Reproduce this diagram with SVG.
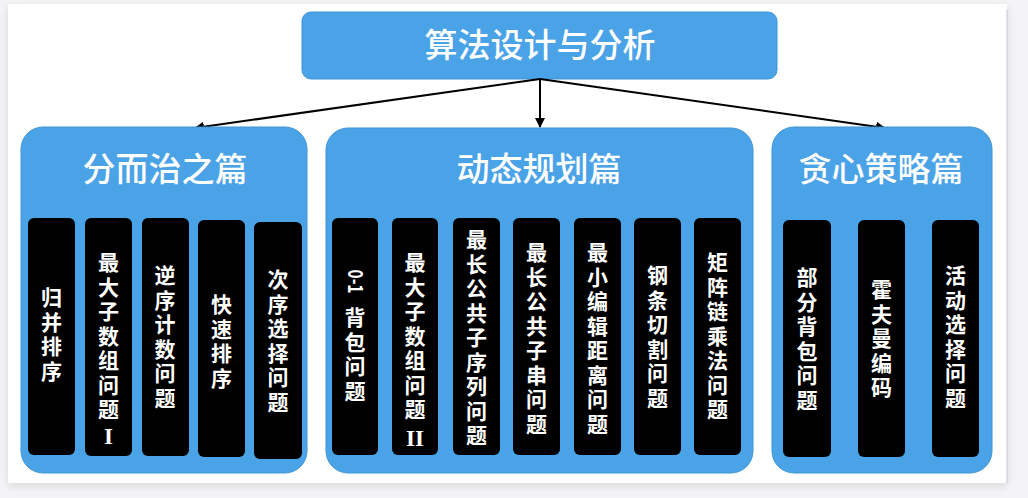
<svg xmlns="http://www.w3.org/2000/svg" width="1028" height="498" viewBox="0 0 1028 498">
<defs>
<marker id="ah" viewBox="0 0 10 10" refX="9" refY="5" markerWidth="5" markerHeight="5" orient="auto" markerUnits="strokeWidth">
<path d="M0,0 L10,5 L0,10 z" fill="#000"/>
</marker>
<filter id="sh" x="-5%" y="-5%" width="110%" height="112%">
<feGaussianBlur in="SourceAlpha" stdDeviation="4"/>
<feOffset dx="0" dy="3"/>
<feComponentTransfer><feFuncA type="linear" slope="0.12"/></feComponentTransfer>
<feMerge><feMergeNode/><feMergeNode in="SourceGraphic"/></feMerge>
</filter>
</defs>
<style>
.blue{fill:#4ba3e7;stroke:#3f95d8;stroke-width:1}
.bar{fill:#000;}
.t{font-family:"Noto Sans CJK SC","Noto Sans",sans-serif;fill:#fff;text-anchor:middle}
.title{font-size:33px;font-weight:500}
.big{font-size:33px;font-weight:500}
.v{font-size:21px;font-weight:700}
.rm{font-family:"Liberation Serif",serif;font-weight:700;font-size:23px}
.edge{stroke:#000;stroke-width:2;fill:none;marker-end:url(#ah)}
</style>
<rect x="0" y="0" width="1028" height="498" fill="#f4f4f6"/>
<rect x="8" y="4" width="999" height="479" fill="#fff" filter="url(#sh)"/>
<line x1="1007" y1="10" x2="1007" y2="483" stroke="#c8c8d8" stroke-width="1"/>

<g id="root">
<rect class="blue" x="302" y="12" width="475" height="67" rx="9"/>
<text class="t big" x="540" y="57">算法设计与分析</text>
</g>

<g id="connectors">
<line class="edge" x1="540" y1="79" x2="195" y2="128"/>
<line class="edge" x1="540" y1="79" x2="540" y2="127"/>
<line class="edge" x1="540" y1="79" x2="885" y2="128"/>
</g>

<g id="divide">
<rect class="blue" x="21" y="127" width="286" height="346" rx="22"/>
<text class="t title" x="165" y="181">分而治之篇</text>
</g>
<g id="dc1"><rect class="bar" x="28" y="218" width="47" height="237" rx="6"/>
<text class="t v"><tspan x="51.5" y="305">归</tspan><tspan x="51.5" y="329.5">并</tspan><tspan x="51.5" y="354">排</tspan><tspan x="51.5" y="378.5">序</tspan></text></g>
<g id="dc2"><rect class="bar" x="85" y="218" width="47" height="238" rx="6"/>
<text class="t v"><tspan x="108.5" y="270">最</tspan><tspan x="108.5" y="294.5">大</tspan><tspan x="108.5" y="319">子</tspan><tspan x="108.5" y="343.5">数</tspan><tspan x="108.5" y="368">组</tspan><tspan x="108.5" y="392.5">问</tspan><tspan x="108.5" y="417">题</tspan></text>
<text class="t rm" x="108.5" y="444">I</text></g>
<g id="dc3"><rect class="bar" x="142" y="218" width="47" height="238" rx="6"/>
<text class="t v"><tspan x="165" y="283">逆</tspan><tspan x="165" y="307.5">序</tspan><tspan x="165" y="332">计</tspan><tspan x="165" y="356.5">数</tspan><tspan x="165" y="381">问</tspan><tspan x="165" y="405.5">题</tspan></text></g>
<g id="dc4"><rect class="bar" x="198" y="220" width="47" height="237" rx="6"/>
<text class="t v"><tspan x="221.5" y="312">快</tspan><tspan x="221.5" y="336.5">速</tspan><tspan x="221.5" y="361">排</tspan><tspan x="221.5" y="385.5">序</tspan></text></g>
<g id="dc5"><rect class="bar" x="254" y="222" width="48" height="237" rx="6"/>
<text class="t v"><tspan x="278" y="287">次</tspan><tspan x="278" y="311.5">序</tspan><tspan x="278" y="336">选</tspan><tspan x="278" y="360.5">择</tspan><tspan x="278" y="385">问</tspan><tspan x="278" y="409.5">题</tspan></text></g>

<g id="dynamic">
<rect class="blue" x="326" y="128" width="427" height="345" rx="22"/>
<text class="t title" x="539" y="181">动态规划篇</text>
</g>
<g id="dp1"><rect class="bar" x="332" y="218" width="46" height="237" rx="6"/>
<text class="t v" transform="translate(355,281.5) rotate(90)" dy="7" font-size="22" textLength="24" lengthAdjust="spacingAndGlyphs">0-1</text>
<text class="t v"><tspan x="355" y="325">背</tspan><tspan x="355" y="349.5">包</tspan><tspan x="355" y="374">问</tspan><tspan x="355" y="398.5">题</tspan></text></g>
<g id="dp2"><rect class="bar" x="392" y="218" width="46" height="237" rx="6"/>
<text class="t v"><tspan x="415" y="270">最</tspan><tspan x="415" y="294.5">大</tspan><tspan x="415" y="319">子</tspan><tspan x="415" y="343.5">数</tspan><tspan x="415" y="368">组</tspan><tspan x="415" y="392.5">问</tspan><tspan x="415" y="417">题</tspan></text>
<text class="t rm" x="415" y="446">II</text></g>
<g id="dp3"><rect class="bar" x="453" y="218" width="47" height="237" rx="6"/>
<text class="t v"><tspan x="476.5" y="247">最</tspan><tspan x="476.5" y="271.5">长</tspan><tspan x="476.5" y="296">公</tspan><tspan x="476.5" y="320.5">共</tspan><tspan x="476.5" y="345">子</tspan><tspan x="476.5" y="369.5">序</tspan><tspan x="476.5" y="394">列</tspan><tspan x="476.5" y="418.5">问</tspan><tspan x="476.5" y="443">题</tspan></text></g>
<g id="dp4"><rect class="bar" x="513" y="218" width="47" height="237" rx="6"/>
<text class="t v"><tspan x="536.5" y="260">最</tspan><tspan x="536.5" y="284.5">长</tspan><tspan x="536.5" y="309">公</tspan><tspan x="536.5" y="333.5">共</tspan><tspan x="536.5" y="358">子</tspan><tspan x="536.5" y="382.5">串</tspan><tspan x="536.5" y="407">问</tspan><tspan x="536.5" y="431.5">题</tspan></text></g>
<g id="dp5"><rect class="bar" x="574" y="218" width="47" height="237" rx="6"/>
<text class="t v"><tspan x="597.5" y="260">最</tspan><tspan x="597.5" y="284.5">小</tspan><tspan x="597.5" y="309">编</tspan><tspan x="597.5" y="333.5">辑</tspan><tspan x="597.5" y="358">距</tspan><tspan x="597.5" y="382.5">离</tspan><tspan x="597.5" y="407">问</tspan><tspan x="597.5" y="431.5">题</tspan></text></g>
<g id="dp6"><rect class="bar" x="634" y="218" width="47" height="237" rx="6"/>
<text class="t v"><tspan x="657.5" y="283">钢</tspan><tspan x="657.5" y="307.5">条</tspan><tspan x="657.5" y="332">切</tspan><tspan x="657.5" y="356.5">割</tspan><tspan x="657.5" y="381">问</tspan><tspan x="657.5" y="405.5">题</tspan></text></g>
<g id="dp7"><rect class="bar" x="694" y="218" width="47" height="237" rx="6"/>
<text class="t v"><tspan x="717.5" y="270">矩</tspan><tspan x="717.5" y="294.5">阵</tspan><tspan x="717.5" y="319">链</tspan><tspan x="717.5" y="343.5">乘</tspan><tspan x="717.5" y="368">法</tspan><tspan x="717.5" y="392.5">问</tspan><tspan x="717.5" y="417">题</tspan></text></g>

<g id="greedy">
<rect class="blue" x="772" y="127" width="220" height="346" rx="22"/>
<text class="t title" x="881" y="181">贪心策略篇</text>
</g>
<g id="gr1"><rect class="bar" x="783" y="220" width="48" height="237" rx="6"/>
<text class="t v"><tspan x="807" y="285">部</tspan><tspan x="807" y="309.5">分</tspan><tspan x="807" y="334">背</tspan><tspan x="807" y="358.5">包</tspan><tspan x="807" y="383">问</tspan><tspan x="807" y="407.5">题</tspan></text></g>
<g id="gr2"><rect class="bar" x="858" y="220" width="47" height="237" rx="6"/>
<text class="t v"><tspan x="881.5" y="297">霍</tspan><tspan x="881.5" y="321.5">夫</tspan><tspan x="881.5" y="346">曼</tspan><tspan x="881.5" y="370.5">编</tspan><tspan x="881.5" y="395">码</tspan></text></g>
<g id="gr3"><rect class="bar" x="932" y="220" width="47" height="237" rx="6"/>
<text class="t v"><tspan x="955.5" y="283">活</tspan><tspan x="955.5" y="307.5">动</tspan><tspan x="955.5" y="332">选</tspan><tspan x="955.5" y="356.5">择</tspan><tspan x="955.5" y="381">问</tspan><tspan x="955.5" y="405.5">题</tspan></text></g>
</svg>
